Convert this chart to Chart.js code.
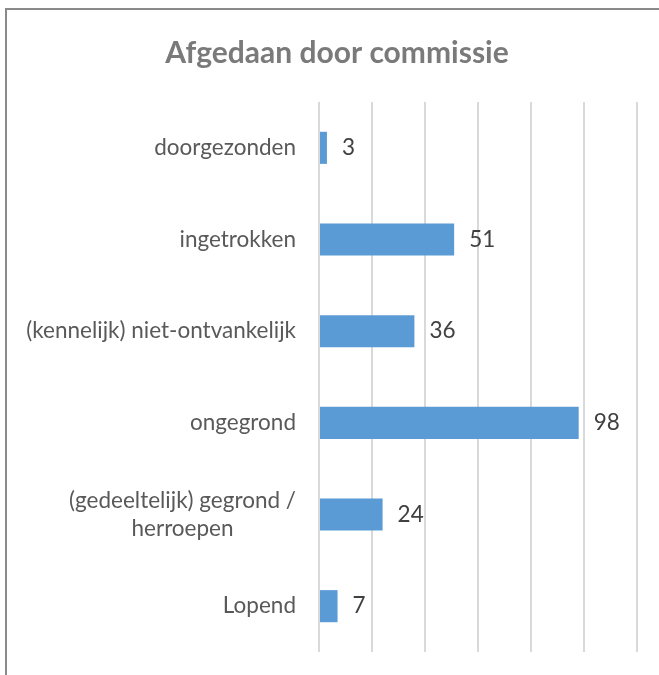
<!DOCTYPE html>
<html>
<head>
<meta charset="utf-8">
<script src="https://cdn.jsdelivr.net/npm/chart.js@4"></script>
<style>
  html, body { margin: 0; padding: 0; background: #fff; }
  #wrap { position: relative; width: 659px; height: 675px; }
</style>
</head>
<body>
<div id="wrap"><canvas id="chart" width="659" height="675"></canvas></div>
<script>
const chartTitle = 'Afgedaan door commissie';
const categories = [
  'doorgezonden',
  'ingetrokken',
  '(kennelijk) niet-ontvankelijk',
  'ongegrond',
  ['(gedeeltelijk) gegrond /', 'herroepen'],
  'Lopend'
];
const values = [3, 51, 36, 98, 24, 7];
const axisMax = 120;
const axisStep = 20;

const labelFont = '22.5px Lato, sans-serif';

// frame around the chart, like the office chart box
const framePlugin = {
  id: 'frame',
  beforeDraw(chart) {
    const ctx = chart.ctx;
    ctx.save();
    ctx.strokeStyle = '#8a8a8a';
    ctx.lineWidth = 2;
    ctx.strokeRect(6, 9, 700, 700);
    ctx.restore();
  }
};

// category labels: right aligned against the axis, wrapped lines centred on each other
const catLabels = {
  id: 'catLabels',
  afterDraw(chart) {
    const ctx = chart.ctx;
    const y = chart.scales.y;
    const right = chart.chartArea.left - 23;
    ctx.save();
    ctx.font = labelFont;
    ctx.fillStyle = '#595959';
    ctx.textBaseline = 'middle';
    ctx.textAlign = 'center';
    categories.forEach((c, i) => {
      const lines = Array.isArray(c) ? c : [c];
      const w = Math.max(...lines.map(l => ctx.measureText(l).width));
      const cy = y.getPixelForTick(i);
      const lh = 28;
      lines.forEach((l, j) => {
        ctx.fillText(l, right - w / 2, cy + (j - (lines.length - 1) / 2) * lh);
      });
    });
    ctx.restore();
  }
};

// value labels at the end of each bar
const valueLabels = {
  id: 'valueLabels',
  afterDatasetsDraw(chart) {
    const ctx = chart.ctx;
    const meta = chart.getDatasetMeta(0);
    ctx.save();
    ctx.font = labelFont;
    ctx.fillStyle = '#404040';
    ctx.textBaseline = 'middle';
    ctx.textAlign = 'left';
    meta.data.forEach((bar, i) => {
      ctx.fillText(String(values[i]), bar.x + 15, bar.y);
    });
    ctx.restore();
  }
};

new Chart(document.getElementById('chart'), {
  type: 'bar',
  data: {
    labels: categories,
    datasets: [{
      data: values,
      backgroundColor: '#5b9bd5',
      barPercentage: 0.5,
      categoryPercentage: 0.7
    }]
  },
  options: {
    indexAxis: 'y',
    responsive: false,
    animation: false,
    layout: { padding: { left: 37, right: 22, top: 0, bottom: 23 } },
    plugins: {
      legend: { display: false },
      tooltip: { enabled: false },
      title: {
        display: true,
        text: chartTitle,
        color: '#7a7a7a',
        font: { family: 'Lato, sans-serif', size: 30, weight: 'bold' },
        padding: { top: 35, bottom: 31 }
      }
    },
    scales: {
      x: {
        min: 0,
        max: axisMax,
        ticks: { display: false, stepSize: axisStep },
        grid: { color: '#d9d9d9', lineWidth: 2, drawTicks: false },
        border: { display: false },
        afterFit(s) { s.height = 0; }
      },
      y: {
        ticks: { display: false },
        grid: { display: false },
        border: { display: false },
        afterFit(s) { s.width = 282; }
      }
    }
  },
  plugins: [framePlugin, catLabels, valueLabels]
});
</script>
</body>
</html>
